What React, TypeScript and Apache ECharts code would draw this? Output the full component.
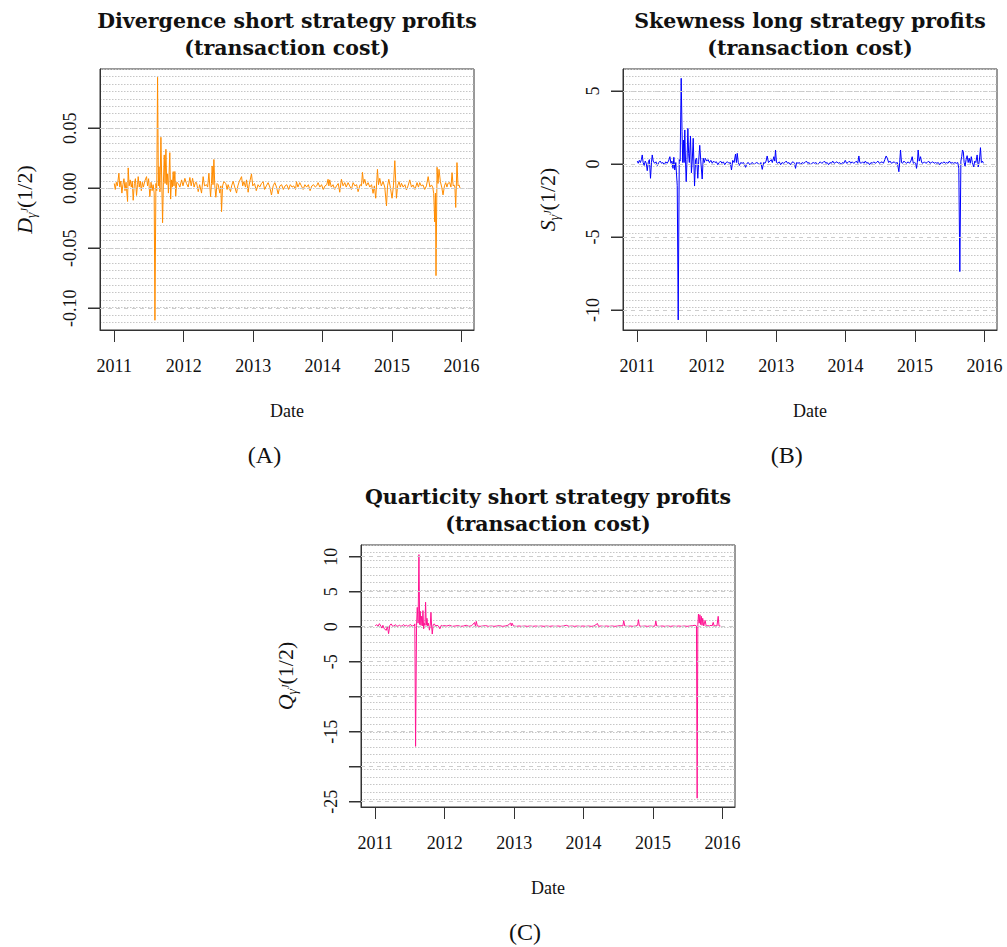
import { useEffect, useRef } from "react";
import * as echarts from "echarts";

// ---------------- data ----------------
const years = [2011, 2012, 2013, 2014, 2015, 2016];

const divTicks = [-0.1, -0.05, 0, 0.05];
const skewTicks = [-10, -5, 0, 5];
const quartTicks = [-25, -20, -15, -10, -5, 0, 5, 10];
const quartLabels = [-25, -15, -5, 0, 5, 10];

// Divergence short strategy profits (decimal year, value)
const divergence: [number, number][] = [
  [2011.0, 0.004], [2011.015, -0.001], [2011.03, 0.005], [2011.045, 0.002], [2011.067, 0.0125],
  [2011.08, 0.001], [2011.095, 0.006], [2011.11, -0.004], [2011.125, 0.003], [2011.14, 0.008],
  [2011.155, -0.002], [2011.17, 0.005], [2011.192, -0.011], [2011.201, 0.017], [2011.215, 0.002],
  [2011.23, 0.007], [2011.245, 0.001], [2011.26, 0.006], [2011.273, -0.01], [2011.29, 0.004],
  [2011.305, 0.008], [2011.321, -0.006], [2011.335, 0.003], [2011.345, 0.0097], [2011.36, 0.001],
  [2011.375, 0.006], [2011.39, -0.002], [2011.405, 0.005], [2011.42, 0.001], [2011.44, 0.006],
  [2011.465, 0.0097], [2011.48, 0.002], [2011.495, 0.008], [2011.513, -0.007], [2011.53, 0.005],
  [2011.545, -0.002], [2011.56, 0.003], [2011.575, -0.004], [2011.586, -0.11], [2011.6, 0.004],
  [2011.612, -0.002], [2011.624, 0.0925], [2011.636, 0.002], [2011.645, 0.018], [2011.658, -0.003],
  [2011.672, 0.0425], [2011.684, 0.006], [2011.696, -0.0287], [2011.708, 0.005], [2011.72, 0.0278],
  [2011.732, 0.004], [2011.744, 0.0325], [2011.756, 0.003], [2011.768, 0.012], [2011.78, -0.004],
  [2011.8, 0.0297], [2011.812, -0.009], [2011.825, 0.007], [2011.837, 0.001], [2011.849, 0.0139],
  [2011.86, 0.002], [2011.873, 0.014], [2011.885, -0.0065], [2011.9, 0.005], [2011.921, 0.004],
  [2011.945, 0.001], [2011.97, 0.007], [2011.99, 0.002], [2012.017, 0.0083], [2012.04, 0.004],
  [2012.065, 0.001], [2012.089, 0.009], [2012.108, 0.002], [2012.128, 0.0083], [2012.15, 0.001],
  [2012.17, 0.005], [2012.185, 0.0047], [2012.209, -0.0028], [2012.23, 0.003], [2012.257, -0.004],
  [2012.28, 0.0097], [2012.3, 0.002], [2012.329, 0.003], [2012.345, 0.001], [2012.363, 0.0125],
  [2012.387, -0.007], [2012.4, 0.004], [2012.41, 0.0186], [2012.422, 0.003], [2012.435, 0.024],
  [2012.448, 0.002], [2012.463, -0.0075], [2012.48, 0.004], [2012.497, 0.003], [2012.52, -0.004],
  [2012.535, 0.002], [2012.545, -0.0195], [2012.56, 0.002], [2012.578, 0.0055], [2012.607, 0.004],
  [2012.625, -0.001], [2012.64, 0.003], [2012.674, -0.0028], [2012.69, 0.002], [2012.712, 0.0058],
  [2012.735, 0.001], [2012.761, -0.004], [2012.78, 0.002], [2012.799, 0.0055], [2012.833, 0.0097],
  [2012.85, 0.002], [2012.866, 0.0055], [2012.89, 0.001], [2012.905, 0.007], [2012.928, -0.0033],
  [2012.943, 0.003], [2012.976, 0.012], [2012.995, 0.002], [2013.02, 0.004], [2013.045, -0.002],
  [2013.07, 0.003], [2013.095, 0.001], [2013.12, 0.004], [2013.144, 0.0055], [2013.165, -0.001],
  [2013.19, 0.002], [2013.216, 0.0047], [2013.24, 0.001], [2013.264, -0.0056], [2013.288, 0.002],
  [2013.312, 0.0047], [2013.336, 0.001], [2013.36, -0.0047], [2013.385, 0.002], [2013.41, 0.003],
  [2013.435, -0.001], [2013.46, 0.002], [2013.485, 0.003], [2013.51, -0.001], [2013.535, 0.003],
  [2013.56, 0.001], [2013.585, 0.002], [2013.61, -0.001], [2013.624, 0.0055], [2013.645, 0.001],
  [2013.671, 0.0047], [2013.695, 0.002], [2013.72, -0.001], [2013.745, 0.003], [2013.77, 0.001],
  [2013.795, 0.003], [2013.82, -0.002], [2013.845, 0.002], [2013.87, 0.003], [2013.895, 0.001],
  [2013.915, 0.002], [2013.935, 0.0047], [2013.96, 0.001], [2013.985, 0.003], [2014.01, -0.001],
  [2014.035, 0.002], [2014.06, 0.003], [2014.079, 0.0075], [2014.09, 0.002], [2014.103, 0.007],
  [2014.125, 0.001], [2014.15, 0.003], [2014.175, -0.001], [2014.2, 0.002], [2014.225, 0.004],
  [2014.247, -0.0033], [2014.271, 0.0075], [2014.295, 0.002], [2014.319, 0.0047], [2014.34, 0.001],
  [2014.367, 0.0047], [2014.39, 0.002], [2014.415, -0.001], [2014.439, 0.0047], [2014.465, 0.002],
  [2014.49, 0.003], [2014.511, -0.0028], [2014.54, 0.003], [2014.56, 0.002], [2014.574, 0.0133],
  [2014.59, 0.004], [2014.607, 0.0075], [2014.63, 0.002], [2014.655, 0.0047], [2014.68, 0.001],
  [2014.705, 0.003], [2014.727, -0.0042], [2014.745, 0.002], [2014.765, -0.0083], [2014.79, 0.0158],
  [2014.805, 0.003], [2014.823, 0.0083], [2014.845, 0.002], [2014.871, 0.0055], [2014.895, 0.001],
  [2014.92, -0.0147], [2014.935, 0.002], [2014.953, 0.0075], [2014.975, 0.001], [2015.0, -0.0083],
  [2015.02, 0.002], [2015.04, 0.023], [2015.063, -0.0083], [2015.08, 0.002], [2015.101, 0.0055],
  [2015.12, 0.001], [2015.135, 0.0042], [2015.16, 0.001], [2015.185, 0.003], [2015.207, -0.0014],
  [2015.23, 0.002], [2015.255, 0.007], [2015.28, 0.001], [2015.302, 0.0028], [2015.33, -0.001],
  [2015.36, 0.0047], [2015.38, 0.001], [2015.399, 0.0047], [2015.42, 0.002], [2015.446, 0.0028],
  [2015.47, -0.001], [2015.495, 0.002], [2015.52, 0.0097], [2015.545, 0.001], [2015.567, 0.0028],
  [2015.585, 0.001], [2015.6, -0.0042], [2015.614, -0.028], [2015.625, -0.004], [2015.633, -0.0728],
  [2015.648, 0.0175], [2015.662, 0.004], [2015.676, 0.0158], [2015.696, 0.0055], [2015.715, 0.001],
  [2015.734, -0.0055], [2015.755, 0.002], [2015.773, 0.0047], [2015.79, 0.001], [2015.806, 0.0042],
  [2015.83, 0.0047], [2015.848, 0.001], [2015.864, 0.013], [2015.88, 0.002], [2015.892, 0.0028],
  [2015.905, 0.001], [2015.917, -0.016], [2015.935, 0.0214], [2015.95, 0.002], [2015.964, 0.0028],
  [2015.98, 0.0],
];

// Skewness long strategy profits
const skewness: [number, number][] = [
  [2011.0, 0.2], [2011.015, 0.05], [2011.03, 0.25], [2011.045, 0.1], [2011.06, 0.3],
  [2011.072, 0.62], [2011.085, 0.1], [2011.1, -0.1], [2011.115, 0.2], [2011.13, 0.05],
  [2011.144, -0.46], [2011.16, 0.15], [2011.175, 0.3], [2011.191, -0.98], [2011.205, 0.1],
  [2011.216, 0.62], [2011.23, 0.2], [2011.25, 0.05], [2011.27, 0.15], [2011.29, -0.1],
  [2011.31, 0.1], [2011.33, 0.2], [2011.35, 0.05], [2011.37, 0.1], [2011.39, -0.05],
  [2011.41, 0.15], [2011.43, 0.05], [2011.45, 0.2], [2011.47, 0.5], [2011.485, 0.05],
  [2011.5, 0.2], [2011.515, -0.3], [2011.527, 0.46], [2011.54, -0.41], [2011.555, 0.1],
  [2011.576, -1.48], [2011.59, -10.68], [2011.605, 0.3], [2011.618, 0.2], [2011.633, 5.87],
  [2011.645, 2.21], [2011.655, 0.1], [2011.665, 1.64], [2011.675, 0.1], [2011.685, 2.33],
  [2011.695, 0.2], [2011.705, -1.21], [2011.717, 0.3], [2011.729, 2.44], [2011.74, 0.7],
  [2011.75, 0.1], [2011.767, 1.92], [2011.78, -0.6], [2011.792, 0.2], [2011.806, 1.76],
  [2011.825, -1.51], [2011.84, 0.3], [2011.855, 0.4], [2011.872, -0.98], [2011.885, 0.2],
  [2011.9, 1.28], [2011.915, 0.2], [2011.935, -1.03], [2011.95, 0.4], [2011.965, 0.1],
  [2011.98, 0.39], [2012.0, 0.2], [2012.02, 0.3], [2012.04, 0.1], [2012.06, 0.25],
  [2012.08, 0.05], [2012.1, 0.2], [2012.12, 0.1], [2012.14, 0.15], [2012.16, -0.05],
  [2012.18, 0.1], [2012.2, 0.2], [2012.22, 0.05], [2012.24, 0.15], [2012.26, -0.05],
  [2012.28, 0.1], [2012.3, 0.15], [2012.32, 0.05], [2012.34, 0.1], [2012.357, -0.41],
  [2012.375, 0.25], [2012.395, 0.1], [2012.415, 0.68], [2012.428, 0.1], [2012.44, 0.73],
  [2012.455, 0.1], [2012.47, -0.1], [2012.49, 0.1], [2012.51, 0.05], [2012.53, 0.1],
  [2012.545, -0.05], [2012.56, -0.23], [2012.58, 0.05], [2012.6, 0.1], [2012.62, -0.05],
  [2012.64, 0.05], [2012.66, 0.1], [2012.68, -0.05], [2012.7, 0.05], [2012.72, 0.1],
  [2012.74, 0.05], [2012.76, -0.05], [2012.78, 0.1], [2012.8, -0.37], [2012.82, 0.1],
  [2012.84, 0.05], [2012.855, 0.2], [2012.871, 0.55], [2012.89, 0.1], [2012.91, 0.2],
  [2012.93, 0.3], [2012.945, 0.1], [2012.967, 0.5], [2012.98, 0.2], [2012.991, 0.96],
  [2013.005, 0.1], [2013.025, 0.05], [2013.045, 0.15], [2013.065, -0.05], [2013.085, 0.1],
  [2013.105, 0.05], [2013.125, 0.1], [2013.145, 0.2], [2013.165, 0.05], [2013.185, 0.1],
  [2013.205, -0.05], [2013.225, 0.1], [2013.245, 0.15], [2013.265, 0.05], [2013.279, -0.3],
  [2013.295, 0.1], [2013.315, 0.05], [2013.335, 0.1], [2013.355, -0.05], [2013.375, 0.1],
  [2013.395, 0.05], [2013.415, 0.1], [2013.435, 0.2], [2013.455, 0.05], [2013.475, 0.1],
  [2013.495, -0.05], [2013.515, 0.05], [2013.535, 0.1], [2013.555, 0.05], [2013.575, 0.1],
  [2013.595, -0.05], [2013.615, 0.05], [2013.635, 0.15], [2013.655, 0.05], [2013.675, 0.1],
  [2013.695, 0.2], [2013.715, 0.05], [2013.735, 0.1], [2013.755, -0.05], [2013.775, 0.1],
  [2013.795, 0.05], [2013.815, 0.2], [2013.835, 0.05], [2013.855, 0.1], [2013.875, 0.15],
  [2013.895, 0.05], [2013.915, 0.1], [2013.935, -0.05], [2013.955, 0.1], [2013.975, 0.05],
  [2013.995, 0.25], [2014.015, 0.05], [2014.035, 0.1], [2014.055, 0.2], [2014.075, 0.05],
  [2014.095, 0.15], [2014.115, 0.05], [2014.135, 0.1], [2014.155, 0.2], [2014.175, 0.05],
  [2014.191, 0.55], [2014.205, 0.1], [2014.225, 0.05], [2014.245, 0.15], [2014.265, 0.05],
  [2014.285, 0.2], [2014.305, 0.05], [2014.325, 0.1], [2014.345, -0.05], [2014.365, 0.1],
  [2014.385, 0.05], [2014.405, 0.15], [2014.425, 0.05], [2014.445, 0.1], [2014.465, 0.2],
  [2014.485, 0.05], [2014.505, 0.1], [2014.525, 0.15], [2014.545, 0.05], [2014.565, 0.3],
  [2014.584, 0.55], [2014.6, 0.4], [2014.62, 0.1], [2014.64, 0.2], [2014.66, 0.05],
  [2014.68, 0.1], [2014.7, 0.15], [2014.72, 0.05], [2014.745, 0.1], [2014.767, -0.53],
  [2014.779, 0.1], [2014.791, 0.96], [2014.805, 0.1], [2014.82, 0.05], [2014.84, 0.2],
  [2014.86, 0.1], [2014.88, 0.05], [2014.9, 0.15], [2014.92, 0.05], [2014.94, 0.2],
  [2014.959, 0.5], [2014.975, 0.05], [2014.99, 0.1], [2015.01, 0.05], [2015.021, -0.3],
  [2015.033, 0.1], [2015.045, 0.96], [2015.06, 0.2], [2015.079, 0.5], [2015.095, 0.1],
  [2015.115, 0.05], [2015.135, 0.15], [2015.155, 0.05], [2015.175, 0.1], [2015.195, 0.2],
  [2015.215, 0.05], [2015.235, 0.1], [2015.255, 0.15], [2015.275, 0.05], [2015.295, 0.1],
  [2015.315, 0.05], [2015.335, 0.1], [2015.355, -0.05], [2015.375, 0.1], [2015.395, 0.05],
  [2015.415, 0.15], [2015.435, 0.05], [2015.455, 0.1], [2015.475, 0.05], [2015.495, 0.2],
  [2015.515, 0.05], [2015.535, 0.1], [2015.555, 0.05], [2015.575, 0.1], [2015.595, 0.05],
  [2015.615, 0.1], [2015.63, -0.3], [2015.645, -7.37], [2015.66, 0.2], [2015.672, 0.5],
  [2015.683, 0.96], [2015.695, 0.84], [2015.707, 0.1], [2015.72, -0.15], [2015.735, 0.3],
  [2015.75, 0.57], [2015.765, 0.1], [2015.78, 0.4], [2015.795, 0.05], [2015.81, 0.5],
  [2015.825, 0.1], [2015.845, -0.2], [2015.86, 0.2], [2015.875, 0.1], [2015.894, 0.62],
  [2015.91, -0.2], [2015.925, 0.2], [2015.942, 1.12], [2015.955, 0.1], [2015.97, 0.2],
  [2015.985, 0.05],
];

// Quarticity short strategy profits
const quarticity: [number, number][] = [
  [2011.0, 0.1], [2011.02, 0.3], [2011.04, 0.05], [2011.06, 0.43], [2011.08, 0.1],
  [2011.095, -0.2], [2011.11, 0.2], [2011.13, -0.3], [2011.159, -0.52], [2011.175, 0.1],
  [2011.192, -1.0], [2011.21, 0.2], [2011.23, 0.4], [2011.25, 0.05], [2011.27, 0.1],
  [2011.29, 0.3], [2011.31, 0.05], [2011.33, 0.1], [2011.35, 0.2], [2011.37, 0.05],
  [2011.39, 0.15], [2011.41, 0.3], [2011.43, 0.1], [2011.45, 0.2], [2011.47, 0.05],
  [2011.49, 0.2], [2011.51, 0.3], [2011.53, 0.05], [2011.545, 0.2], [2011.56, 0.1],
  [2011.57, 0.4], [2011.581, -17.1], [2011.595, 0.2], [2011.605, 2.76], [2011.617, 0.5],
  [2011.629, 10.3], [2011.64, 0.3], [2011.648, 2.2], [2011.658, 0.2], [2011.668, 1.5],
  [2011.678, 0.1], [2011.687, 2.3], [2011.697, -0.3], [2011.706, 0.5], [2011.716, 0.2],
  [2011.725, 3.5], [2011.735, 0.2], [2011.745, 1.2], [2011.755, 0.1], [2011.765, 0.5],
  [2011.78, -0.5], [2011.792, 0.2], [2011.802, 2.05], [2011.812, 0.1], [2011.821, -1.05],
  [2011.835, 0.3], [2011.85, 0.4], [2011.87, 0.1], [2011.89, 0.2], [2011.91, 0.1],
  [2011.93, -0.3], [2011.951, 0.2], [2011.97, 0.1], [2011.99, 0.15], [2012.03, 0.1],
  [2012.07, 0.2], [2012.11, 0.05], [2012.15, 0.1], [2012.19, 0.15], [2012.23, 0.05],
  [2012.27, 0.1], [2012.31, 0.2], [2012.35, 0.05], [2012.39, 0.15], [2012.43, 0.6],
  [2012.443, 0.1], [2012.455, 0.76], [2012.47, 0.1], [2012.51, 0.05], [2012.55, 0.1],
  [2012.59, 0.15], [2012.63, 0.05], [2012.67, 0.1], [2012.71, 0.05], [2012.75, 0.1],
  [2012.79, 0.15], [2012.83, 0.05], [2012.87, 0.1], [2012.91, 0.2], [2012.95, 0.52],
  [2012.96, 0.1], [2012.97, 0.5], [2012.99, 0.1], [2013.03, 0.05], [2013.07, 0.1],
  [2013.11, 0.05], [2013.15, 0.1], [2013.19, 0.05], [2013.23, 0.1], [2013.27, 0.05],
  [2013.31, 0.1], [2013.35, 0.05], [2013.39, 0.1], [2013.43, 0.05], [2013.47, 0.1],
  [2013.51, 0.05], [2013.55, 0.1], [2013.59, 0.05], [2013.63, 0.1], [2013.67, 0.05],
  [2013.71, 0.1], [2013.75, 0.2], [2013.79, 0.05], [2013.83, 0.1], [2013.87, 0.05],
  [2013.91, 0.1], [2013.95, 0.05], [2013.99, 0.1], [2014.03, 0.05], [2014.07, 0.1],
  [2014.11, 0.05], [2014.15, 0.1], [2014.2, 0.45], [2014.215, 0.05], [2014.25, 0.1],
  [2014.29, 0.05], [2014.33, 0.1], [2014.37, 0.05], [2014.41, 0.1], [2014.45, 0.05],
  [2014.49, 0.1], [2014.53, 0.15], [2014.565, 0.1], [2014.578, 0.86], [2014.592, 0.1],
  [2014.63, 0.05], [2014.67, 0.1], [2014.71, 0.05], [2014.75, 0.1], [2014.778, 0.2],
  [2014.79, 1.0], [2014.803, 0.1], [2014.84, 0.05], [2014.88, 0.1], [2014.92, 0.05],
  [2014.96, 0.1], [2015.0, 0.05], [2015.028, 0.1], [2015.04, 0.81], [2015.053, 0.1],
  [2015.09, 0.05], [2015.13, 0.1], [2015.17, 0.05], [2015.21, 0.1], [2015.25, 0.05],
  [2015.29, 0.1], [2015.33, 0.05], [2015.37, 0.1], [2015.41, 0.05], [2015.45, 0.1],
  [2015.49, 0.05], [2015.53, 0.1], [2015.57, 0.15], [2015.605, 0.2], [2015.625, 0.1],
  [2015.635, -24.5], [2015.645, 0.3], [2015.654, 1.81], [2015.665, 0.5], [2015.675, 1.71],
  [2015.685, 0.3], [2015.695, 1.48], [2015.705, 0.2], [2015.715, 1.2], [2015.73, 0.1],
  [2015.75, 0.9], [2015.765, 0.1], [2015.79, 0.15], [2015.81, 0.1], [2015.835, 0.2],
  [2015.85, 0.1], [2015.866, 0.62], [2015.88, 0.1], [2015.9, 0.15], [2015.92, 0.1],
  [2015.938, 1.48], [2015.95, 0.1], [2015.97, 0.1],
];

const titles = [
  "Divergence short strategy profits\n(transaction cost)",
  "Skewness long strategy profits\n(transaction cost)",
  "Quarticity short strategy profits\n(transaction cost)",
];
const panelTags = ["(A)", "(B)", "(C)"];
const yLetters = ["D", "S", "Q"];
const colors = ["#FF8C00", "#0000FF", "#FF1493"];

// ---------------- layout ----------------
const SERIF = "'Liberation Serif', 'DejaVu Serif', serif";
const grids = [
  { left: 100, top: 69, width: 374, height: 261 },
  { left: 623, top: 69, width: 374, height: 261 },
  { left: 361, top: 545, width: 374, height: 262 },
];
const yRanges = [
  { min: -0.1181, max: 0.0994 },
  { min: -11.37, max: 6.507 },
  { min: -25.76, max: 11.67 },
];
const X_MIN = 2010.795;
const X_MAX = 2016.18;
const TICK_LEN = 12;

export default function App() {
  const ref = useRef<HTMLDivElement>(null);

  useEffect(() => {
    if (!ref.current) return;
    const chart = echarts.init(ref.current, undefined, { renderer: "svg" });

    const seriesData = [divergence, skewness, quarticity];
    const tickSets = [divTicks, skewTicks, quartTicks];
    const labelSets = [divTicks, skewTicks, quartLabels];
    const fmts = [
      (v: number) => v.toFixed(2),
      (v: number) => String(v),
      (v: number) => String(v),
    ];

    const xAxis: any[] = [];
    const yAxis: any[] = [];
    const series: any[] = [];
    const graphic: any[] = [];

    grids.forEach((g, i) => {
      xAxis.push({
        type: "value",
        gridIndex: i,
        position: "bottom",
        min: X_MIN,
        max: X_MAX,
        axisLine: { show: true, onZero: false, lineStyle: { color: "#333", width: 1 } },
        splitLine: { show: false },
        axisTick: {
          show: true,
          inside: false,
          customValues: years,
          length: TICK_LEN,
          lineStyle: { color: "#333", width: 1 },
        },
        axisLabel: {
          customValues: years,
          margin: 27,
          fontSize: 18,
          fontFamily: SERIF,
          color: "#111",
          formatter: (v: number) => String(v),
        },
      });
      yAxis.push({
        type: "value",
        gridIndex: i,
        position: "left",
        min: yRanges[i].min,
        max: yRanges[i].max,
        axisLine: { show: true, onZero: false, lineStyle: { color: "#333", width: 1 } },
        splitLine: { show: false },
        axisTick: {
          show: true,
          inside: false,
          customValues: tickSets[i],
          length: TICK_LEN,
          lineStyle: { color: "#333", width: 1 },
        },
        axisLabel: {
          customValues: labelSets[i],
          rotate: 90,
          margin: 21,
          fontSize: 18,
          fontFamily: SERIF,
          color: "#111",
          formatter: fmts[i],
        },
      });
      // dense dotted background grid
      yAxis.push({
        type: "value",
        gridIndex: i,
        position: "right",
        min: 0,
        max: 35,
        interval: 1,
        axisLine: { show: false, onZero: false },
        axisTick: { show: false },
        axisLabel: { show: false },
        splitLine: {
          show: true,
          lineStyle: { color: "#c6c6c6", type: [1.5, 1.5], width: 1 },
        },
      });

      series.push({
        type: "line",
        xAxisIndex: i,
        yAxisIndex: 2 * i,
        data: [],
        z: 1,
        silent: true,
        markLine: {
          silent: true,
          symbol: ["none", "none"],
          label: { show: false },
          lineStyle: { type: [4, 4], color: "#cdcdcd", width: 1 },
          emphasis: { disabled: true },
          data: tickSets[i].map((t) => ({ yAxis: t })),
        },
      });
      series.push({
        type: "line",
        xAxisIndex: i,
        yAxisIndex: 2 * i,
        data: seriesData[i],
        showSymbol: false,
        symbol: "none",
        z: 3,
        lineStyle: { width: 1, color: colors[i] },
        itemStyle: { color: colors[i] },
      });

      const cx = g.left + g.width / 2;
      const cy = g.top + g.height / 2;
      // title
      graphic.push({
        type: "text",
        x: cx,
        y: g.top - 35,
        style: {
          text: titles[i],
          fontFamily: "'DejaVu Serif', serif",
          fontWeight: "bold",
          fontSize: 20.5,
          lineHeight: 27,
          align: "center",
          verticalAlign: "middle",
          fill: "#111",
        },
      });
      // x axis name
      graphic.push({
        type: "text",
        x: cx,
        y: g.top + g.height + 81,
        style: {
          text: "Date",
          fontFamily: SERIF,
          fontSize: 18,
          align: "center",
          verticalAlign: "middle",
          fill: "#111",
        },
      });
      // y axis name
      graphic.push({
        type: "text",
        x: g.left - 76,
        y: cy,
        rotation: Math.PI / 2,
        style: {
          text: `{d|${yLetters[i]}}{g|γ}{j|J}{p|(1/2)}`,
          fontFamily: SERIF,
          fontSize: 21,
          align: "center",
          verticalAlign: "middle",
          fill: "#111",
          rich: {
            d: { fontStyle: "italic", fontSize: 22, lineHeight: 28, verticalAlign: "middle", fontFamily: SERIF },
            g: { fontStyle: "italic", fontSize: 14, lineHeight: 14, verticalAlign: "bottom", fontFamily: SERIF },
            j: { fontStyle: "italic", fontSize: 10, lineHeight: 20, verticalAlign: "middle", fontFamily: SERIF },
            p: { fontSize: 22, lineHeight: 28, verticalAlign: "middle", fontFamily: SERIF },
          },
        },
      });
    });

    const tagPos = [
      [264.5, 455],
      [786.7, 455],
      [525, 931.5],
    ];
    panelTags.forEach((t, i) => {
      graphic.push({
        type: "text",
        x: tagPos[i][0],
        y: tagPos[i][1],
        style: {
          text: t,
          fontFamily: SERIF,
          fontSize: 24,
          align: "center",
          verticalAlign: "middle",
          fill: "#111",
        },
      });
    });

    chart.setOption({
      animation: false,
      backgroundColor: "#fff",
      grid: grids.map((g) => ({
        ...g,
        show: true,
        borderColor: "#333",
        borderWidth: 1,
        backgroundColor: "#fff",
        containLabel: false,
      })),
      xAxis,
      yAxis,
      series,
    });

    // y-axis tick marks placed through the library's own scales
    grids.forEach((g, i) => {
      tickSets[i].forEach((t) => {
        const p = chart.convertToPixel(
          { xAxisIndex: i, yAxisIndex: 2 * i },
          [X_MIN, t]
        ) as any;
        const px = Array.isArray(p) ? p[0] : g.left;
        const py = Array.isArray(p) ? p[1] : p;
        if (typeof py !== "number" || !isFinite(py)) return;
        graphic.push({
          type: "rect",
          silent: true,
          z: 100,
          shape: { x: px - TICK_LEN, y: Math.round(py) - 0.5, width: TICK_LEN, height: 1 },
          style: { fill: "#333" },
        });
      });
    });

    chart.setOption({ graphic });

    return () => chart.dispose();
  }, []);

  return (
    <div
      ref={ref}
      style={{ position: "absolute", left: 0, top: 0, width: 1007, height: 947 }}
    />
  );
}
